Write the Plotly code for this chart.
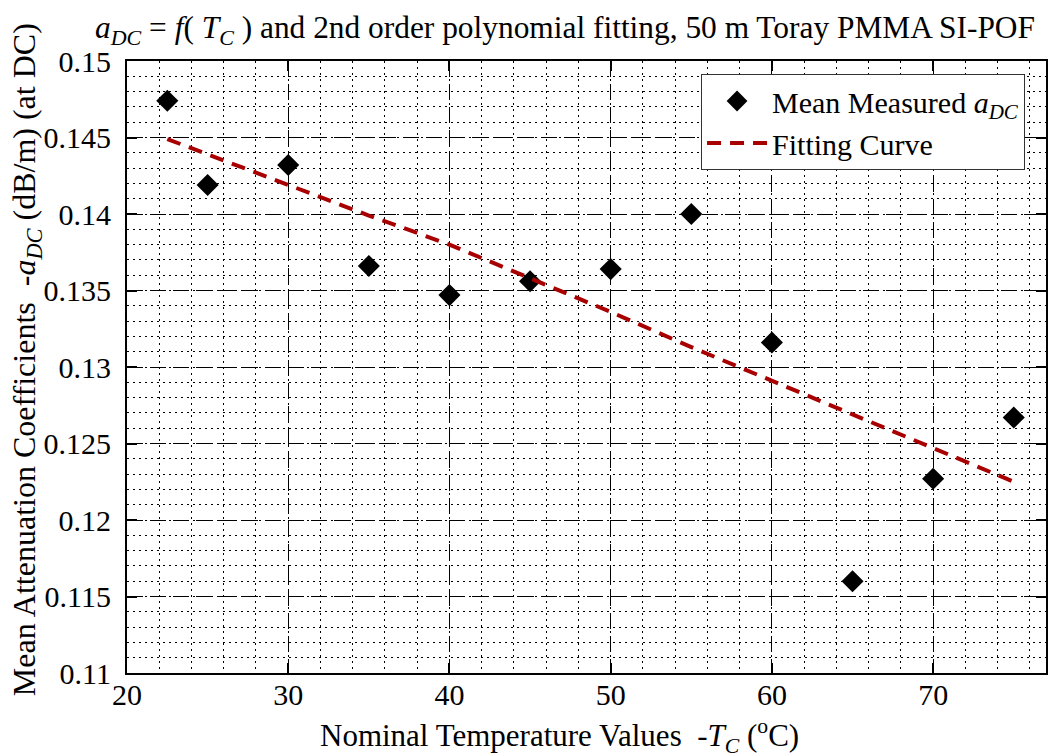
import plotly.graph_objects as go

# Data
temps = [22.5, 25, 30, 35, 40, 45, 50, 55, 60, 65, 70, 75]
a_dc = [0.1474, 0.1419, 0.1432, 0.1366, 0.1347, 0.1356, 0.1364, 0.1400, 0.1316, 0.1160, 0.1227, 0.1267]

fit_t = [22.5, 25, 30, 35, 40, 45, 50, 55, 60, 65, 70, 75]
fit_a = [0.1449, 0.1439, 0.1419, 0.1399, 0.1380, 0.1358, 0.1336, 0.1313, 0.1291, 0.1269, 0.1247, 0.1225]

x_ticks = [20, 30, 40, 50, 60, 70]
y_ticks = [0.11, 0.115, 0.12, 0.125, 0.13, 0.135, 0.14, 0.145, 0.15]
y_ticktext = ["0.11", "0.115", "0.12", "0.125", "0.13", "0.135", "0.14", "0.145", "0.15"]

FONT = "Liberation Serif"

fig = go.Figure()
fig.add_trace(go.Scatter(
    x=temps, y=a_dc, mode="markers",
    name="Mean Measured <i>a</i><sub><i>DC</i></sub>",
    marker=dict(symbol="diamond", size=17, color="black", line=dict(width=0)),
))
fig.add_trace(go.Scatter(
    x=fit_t, y=fit_a, mode="lines", name="Fitting Curve",
    line=dict(color="#a80000", width=4, dash="14px,9px"),
))

axis_common = dict(
    showline=True, linecolor="black", linewidth=2, mirror="ticks",
    ticks="inside", ticklen=10, tickwidth=1.5, tickcolor="black",
    showgrid=True, gridcolor="black", gridwidth=1.2, griddash="16px,7px",
    zeroline=False,
    tickfont=dict(family=FONT, size=30, color="black"),
)

fig.update_xaxes(
    range=[20, 77], tickvals=x_ticks, ticktext=[str(v) for v in x_ticks],
    minor=dict(dtick=2, tick0=0, showgrid=True, gridcolor="black", gridwidth=1,
               griddash="2px,4px", ticks=""),
    ticklabelstandoff=-6,
    **axis_common,
)
fig.update_yaxes(
    range=[0.11, 0.15], tickvals=y_ticks, ticktext=y_ticktext,
    minor=dict(dtick=0.001, tick0=0.11, showgrid=True, gridcolor="black", gridwidth=1,
               griddash="2px,4px", ticks=""),
    ticklabelstandoff=8,
    **axis_common,
)

W, H = 1051, 756
L, R, T, B = 127, 3, 61, 83
pw, ph = W - L - R, H - T - B

def px(x):
    return (x - L) / pw

def py(y):
    return (H - B - y) / ph

fig.update_layout(
    width=W, height=H,
    margin=dict(l=L, r=R, t=T, b=B),
    paper_bgcolor="white", plot_bgcolor="white",
    font=dict(family=FONT, size=30, color="black"),
    showlegend=True,
    legend=dict(
        x=px(1027), y=py(74), xanchor="right", yanchor="top",
        bgcolor="white", bordercolor="#333333", borderwidth=1,
        font=dict(family=FONT, size=30, color="black"),
        tracegroupgap=0, itemwidth=60,
    ),
    annotations=[
        dict(
            text="<i>a</i><sub><i>DC</i></sub> = <i>f</i>( <i>T</i><sub><i>C</i></sub> ) and 2nd order polynomial fitting, 50 m Toray PMMA SI-POF",
            xref="paper", yref="paper", x=px(93), y=py(30),
            xanchor="left", yanchor="middle", showarrow=False,
            font=dict(family=FONT, size=31.4, color="black"),
        ),
        dict(
            text="Nominal Temperature Values  -<i>T</i><sub><i>C</i></sub> (<sup>o</sup>C)",
            xref="paper", yref="paper", x=px(318), y=py(736),
            xanchor="left", yanchor="middle", showarrow=False,
            font=dict(family=FONT, size=31, color="black"),
        ),
        dict(
            text="Mean Attenuation Coefficients  -<i>a</i><sub><i>DC</i></sub> (dB/m) (at DC)",
            xref="paper", yref="paper", x=px(26), y=py(360),
            xanchor="center", yanchor="middle", textangle=-90, showarrow=False,
            font=dict(family=FONT, size=32, color="black"),
        ),
    ],
)

fig.write_html("out.html")
